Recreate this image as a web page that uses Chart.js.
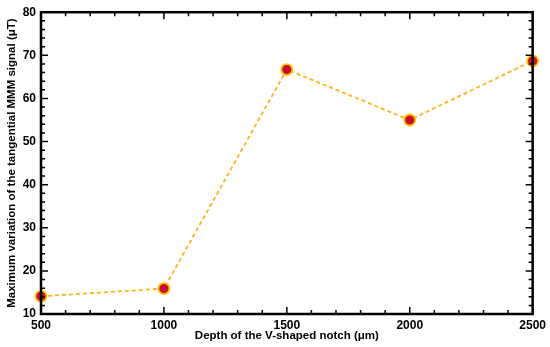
<!DOCTYPE html>
<html>
<head>
<meta charset="utf-8">
<script src="https://cdn.jsdelivr.net/npm/chart.js@4"></script>
<style>
  html, body { margin: 0; padding: 0; background: #fff; }
  #wrap { width: 550px; height: 347px; }
</style>
</head>
<body>
<div id="wrap"><canvas id="c"></canvas></div>
<script>
const depths = [500, 1000, 1500, 2000, 2500];
const signal = [14.1, 15.9, 66.7, 55.0, 68.7];
const xTicks = [500, 1000, 1500, 2000, 2500];
const yTicks = [10, 20, 30, 40, 50, 60, 70, 80];

// inward ticks on all four sides plus a closed frame
const frameTicks = {
  id: 'frameTicks',
  afterDatasetsDraw(chart) {
    const { ctx, chartArea: a, scales: { x, y } } = chart;
    ctx.save();
    ctx.strokeStyle = '#000';
    ctx.lineWidth = 1.5;
    for (let v = 500; v <= 2500; v += 100) {
      const px = x.getPixelForValue(v);
      const len = v % 500 === 0 ? 7 : 4;
      ctx.beginPath();
      ctx.moveTo(px, a.bottom); ctx.lineTo(px, a.bottom - len);
      ctx.moveTo(px, a.top); ctx.lineTo(px, a.top + len);
      ctx.stroke();
    }
    for (let v = 10; v <= 80; v += 2) {
      const py = y.getPixelForValue(v);
      const len = v % 10 === 0 ? 7 : 4;
      ctx.beginPath();
      ctx.moveTo(a.left, py); ctx.lineTo(a.left + len, py);
      ctx.moveTo(a.right, py); ctx.lineTo(a.right - len, py);
      ctx.stroke();
    }
    ctx.lineWidth = 2.5;
    ctx.strokeRect(a.left, a.top, a.right - a.left, a.bottom - a.top);
    ctx.restore();
  }
};

const tickFont = { family: '"Liberation Sans", Arial, sans-serif', size: 12, weight: 'bold' };
const titleFont = { family: '"Liberation Sans", Arial, sans-serif', size: 11.5, weight: 'bold' };

new Chart(document.getElementById('c'), {
  type: 'line',
  data: {
    datasets: [{
      data: depths.map((d, i) => ({ x: d, y: signal[i] })),
      borderColor: '#FFB21E',
      borderWidth: 1.8,
      borderDash: [4, 3],
      pointRadius: 5.5,
      pointBackgroundColor: '#C8102E',
      pointBorderColor: '#FFC000',
      pointBorderWidth: 1.8,
      tension: 0,
      clip: false,
    }],
  },
  options: {
    responsive: true,
    maintainAspectRatio: false,
    animation: false,
    layout: { padding: { left: 0, right: 15, top: 11, bottom: 0 } },
    plugins: { legend: { display: false }, tooltip: { enabled: false } },
    scales: {
      x: {
        type: 'linear',
        min: 500,
        max: 2500,
        afterBuildTicks: s => { s.ticks = xTicks.map(v => ({ value: v })); },
        afterFit: s => { s.height = 33; },
        grid: { display: false, drawTicks: false },
        border: { display: false },
        ticks: { color: '#000', font: tickFont, padding: 4, maxRotation: 0, callback: v => String(v) },
        title: {
          display: true,
          text: 'Depth of the V-shaped notch (μm)',
          color: '#000',
          font: titleFont,
          padding: { top: 0, bottom: 4 },
        },
      },
      y: {
        min: 10,
        max: 80,
        afterBuildTicks: s => { s.ticks = yTicks.map(v => ({ value: v })); },
        afterFit: s => { s.width = 41; },
        grid: { display: false, drawTicks: false },
        border: { display: false },
        ticks: { color: '#000', font: tickFont, padding: 5, callback: v => String(v) },
        title: {
          display: true,
          text: 'Maximum variation of the tangential MMM signal (μT)',
          color: '#000',
          font: titleFont,
          padding: { top: 5, bottom: 0 },
        },
      },
    },
  },
  plugins: [frameTicks],
});
</script>
</body>
</html>
